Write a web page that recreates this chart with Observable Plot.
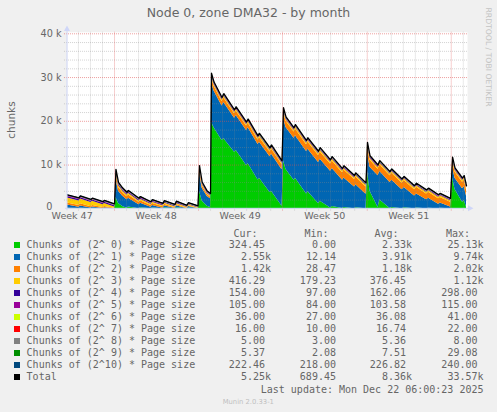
<!DOCTYPE html>
<html><head><meta charset="utf-8">
<script src="https://cdn.jsdelivr.net/npm/d3@7"></script>
<script src="https://cdn.jsdelivr.net/npm/@observablehq/plot@0.6"></script>
<style>
body{margin:0;background:#f0f0f0;}
#wrap{position:relative;width:497px;height:412px;overflow:hidden;background:#f0f0f0;font-family:"DejaVu Sans",sans-serif;color:#666;}
#wrap svg{position:absolute;left:0;top:0;}
.t{position:absolute;white-space:pre;}
.mono{font-family:"DejaVu Sans Mono",monospace;font-size:10px;line-height:12px;height:12px;}
.sw{position:absolute;width:6px;height:6px;}
</style></head><body><div id="wrap"></div>
<script>
// time axis in days since the left edge of the graph
const days = [0.00,0.95,1.07,1.94,2.06,2.93,3.05,3.88,
  4.00,4.21,4.54,4.91,5.03,5.90,6.02,6.89,7.01,7.88,8.00,8.87,8.99,9.86,9.98,10.77,
  10.89,11.11,11.53,11.80,
  11.88,12.09,12.75,12.90,13.78,13.92,14.77,14.91,15.72,15.84,16.71,16.83,17.70,
  17.82,18.03,18.69,18.81,19.72,19.84,20.71,20.85,21.70,21.84,22.69,22.81,23.68,23.79,24.63,
  24.75,24.96,25.62,25.77,26.61,26.76,27.60,27.78,28.63,28.80,29.62,29.79,30.61,30.75,31.60,
  31.77,31.97,32.59,32.73,32.92];

const chunks0 = [150,60,150,30,100,10,80,0,
  2600,1200,500,150,400,30,250,0,200,0,250,0,250,0,200,0,
  4000,1800,600,300,
  19800,18500,15600,16000,12900,13300,9900,10300,6600,7000,3700,4000,600,
  11000,9000,6500,7000,3400,3900,1200,1700,200,500,50,300,20,250,0,
  8500,4000,300,2000,50,300,30,250,20,200,10,150,0,100,0,
  7000,4400,1500,1900,324.45];
const chunks1 = [700,300,500,150,300,60,180,20,
  4200,2800,2400,1900,2000,900,1000,350,550,150,450,60,450,30,300,12,
  4200,2900,2200,2000,
  9000,8400,7900,8300,7800,8000,8000,8200,8100,8200,8200,8500,8300,
  9700,9600,9600,9700,9700,9700,9400,9600,8400,8700,6500,6750,4950,5250,3300,
  4000,5500,7250,6500,5950,6250,4300,4600,2900,3200,2050,2250,1050,1200,400,
  2500,2600,3100,3200,2550];
const chunks2 = [500,400,500,300,350,200,260,80,
  1000,900,800,700,750,550,600,400,450,300,350,200,300,100,200,50,
  800,600,450,400,
  1200,1100,1000,1050,1000,1050,1000,1050,1050,1100,1100,1150,1150,
  1400,1400,1450,1550,1550,1650,1600,1700,1650,1750,1700,1800,1700,1750,1700,
  1700,1650,1500,1550,1550,1600,1550,1600,1450,1500,1350,1400,1250,1300,1100,
  1350,1400,1450,1500,1420];
const chunks3 = [1100,1050,1080,950,980,650,700,330,
  500,450,420,380,400,330,340,290,300,260,270,230,240,200,220,190,
  350,300,270,260,
  420,400,380,400,380,400,380,400,380,390,380,390,380,
  420,420,400,420,400,420,400,420,400,420,400,420,390,410,380,
  400,400,400,410,400,400,390,400,380,390,370,380,360,370,350,
  420,420,420,430,416.29];
const chunks4 = [295,290,292,285,287,278,280,270,
  280,270,255,245,240,215,212,190,188,165,162,140,138,118,116,98,
  140,145,148,150,
  165,165,160,162,158,160,157,158,155,157,155,156,154,
  168,166,162,164,160,161,158,159,156,157,155,156,154,155,153,
  165,162,157,158,156,157,155,156,154,155,153,154,152,153,151,
  160,158,156,157,154];
const chunks5 = [112,112,113,112,112,111,111,110,
  112,110,110,108,108,104,104,100,100,96,96,92,92,88,88,85,
  95,98,100,100,
  108,108,106,107,105,106,105,105,104,105,104,104,104,
  110,109,107,108,106,106,105,106,104,105,104,104,103,104,103,
  110,108,105,106,104,105,104,104,103,104,103,103,102,103,102,
  107,106,105,106,105];
const chunks6 = [40,40,40,39,40,39,39,38,
  40,39,38,37,37,35,35,34,34,32,32,30,30,29,29,27,
  33,34,35,35,
  37,37,36,37,36,36,36,36,36,36,36,36,36,
  38,38,37,37,37,37,36,36,36,36,36,36,35,36,35,
  38,37,36,36,36,36,36,36,35,36,35,35,35,35,35,
  37,37,36,36,36];
const chunks7 = [20,20,21,20,20,19,19,19,
  20,20,19,18,18,17,17,16,16,14,14,13,13,11,11,10,
  14,15,15,15,
  17,17,16,17,16,17,16,16,16,16,16,16,16,
  18,17,17,17,17,17,16,16,16,16,16,16,16,16,15,
  17,17,16,16,16,16,16,16,16,16,15,16,15,15,15,
  17,17,16,16,16];
const chunks8 = [6,6,6,6,6,6,6,6,
  6,6,6,6,6,5,5,5,5,4,4,4,4,3,3,3,
  4,4,5,5,
  6,6,5,5,5,5,5,5,5,5,5,5,5,
  6,6,5,6,5,5,5,5,5,5,5,5,5,5,5,
  6,6,5,5,5,5,5,5,5,5,5,5,5,5,5,
  5,5,5,5,5];
const chunks9 = [10,10,10,9,9,9,9,8,
  25,15,10,8,9,7,8,6,7,5,6,4,5,3,4,2,
  29,12,8,7,
  10,9,7,8,7,8,7,7,6,7,6,7,6,
  12,10,8,8,7,7,6,7,6,6,6,6,5,6,5,
  10,8,7,7,6,6,5,6,5,5,5,5,4,5,4,
  9,8,6,6,5.37];
const chunks10 = [235,235,236,234,234,232,232,230,
  238,236,234,232,232,229,229,226,226,224,224,222,222,220,220,218,
  222,222,223,223,
  228,228,227,227,226,226,226,226,225,225,225,225,224,
  230,229,228,228,227,227,226,226,225,225,224,224,223,223,222,
  228,227,225,225,224,224,223,223,222,222,222,222,221,221,220,
  225,224,223,223,222.46];

const seriesNames = ["Chunks of (2^ 0) * Page size","Chunks of (2^ 1) * Page size","Chunks of (2^ 2) * Page size",
  "Chunks of (2^ 3) * Page size","Chunks of (2^ 4) * Page size","Chunks of (2^ 5) * Page size",
  "Chunks of (2^ 6) * Page size","Chunks of (2^ 7) * Page size","Chunks of (2^ 8) * Page size",
  "Chunks of (2^ 9) * Page size","Chunks of (2^10) * Page size"];
const seriesColors = ["#00CC00","#0066B3","#FF8000","#FFCC00","#330099","#990099","#CCFF00","#FF0000","#808080","#008F00","#00487D"];
const totalName = "Total";
const totalColor = "#000000";

const curVals = ["324.45","2.55k","1.42k","416.29","154.00","105.00","36.00","16.00","5.00","5.37","222.46","5.25k"];
const minVals = ["0.00","12.14","28.47","179.23","97.00","84.00","27.00","10.00","3.00","2.08","218.00","689.45"];
const avgVals = ["2.33k","3.91k","1.18k","376.45","162.06","103.58","36.08","16.74","5.36","7.51","226.82","8.36k"];
const maxVals = ["25.13k","9.74k","2.02k","1.12k","298.00","115.00","41.00","22.00","8.00","29.08","240.00","33.57k"];

const yTicks = [0, 10000, 20000, 30000, 40000];
const yTickLabels = ["0", "10 k", "20 k", "30 k", "40 k"];
const weekStarts = [3.88, 10.81, 17.74, 24.73, 31.66];
const weekLabels = ["Week 47", "Week 48", "Week 49", "Week 50", "Week 51"];

const titleText = "Node 0, zone DMA32 - by month";
const yLabel = "chunks";
const lastUpdate = "Last update: Mon Dec 22 06:00:23 2025";
const footer = "Munin 2.0.33-1";
const watermark = "RRDTOOL / TOBI OETIKER";

// ---- build ----
const series = [chunks0,chunks1,chunks2,chunks3,chunks4,chunks5,chunks6,chunks7,chunks8,chunks9,chunks10];
const rows = [];
series.forEach((arr, i) => arr.forEach((v, j) => rows.push({day: days[j], value: v, series: seriesNames[i]})));
const totals = days.map((d, j) => ({day: d, total: series.reduce((s, a) => s + a[j], 0)}));

const xMax = 33;
const dayStep = (weekStarts[weekStarts.length-1] - weekStarts[0]) / (7 * (weekStarts.length - 1));
const minorX = [];
for (let t = weekStarts[0] - dayStep; t > 0.3; t -= dayStep) minorX.push(t);
for (let w = 0; w < weekStarts.length; w++) {
  for (let k = 1; k < 7; k++) {
    const t = weekStarts[w] + k * dayStep;
    if (t < xMax - 0.1) minorX.push(t);
  }
}
const minorY = d3.range(2000, 40000, 2000).filter(v => v % 10000 !== 0);
const majorY = yTicks.filter(v => v > 0);
const minorStyle = {stroke: "#8c8c8c", strokeOpacity: 0.38, strokeDasharray: "1,1", strokeWidth: 1};
const majorStyle = {stroke: "#e05050", strokeOpacity: 0.55, strokeDasharray: "1,1", strokeWidth: 1};
const fontColor = "#666666";

const chart = Plot.plot({
  width: 497, height: 225,
  marginLeft: 67, marginRight: 30, marginTop: 33.3, marginBottom: 16.7,
  style: {background: "transparent", fontFamily: "DejaVu Sans", overflow: "visible"},
  x: {domain: [0, xMax], axis: null},
  y: {domain: [0, 40000], axis: null},
  color: {domain: seriesNames, range: seriesColors},
  marks: [
    Plot.frame({fill: "#ffffff", stroke: null, insetTop: -1.5}),
    Plot.areaY(rows, {x: "day", y: "value", fill: "series"}),
    Plot.ruleY(minorY, {x1: -0.25, x2: xMax + 0.05, ...minorStyle}),
    Plot.ruleX(minorX, {y1: -500, y2: 40340, ...minorStyle}),
    Plot.ruleY(majorY, {x1: -0.25, x2: xMax + 0.05, ...majorStyle}),
    Plot.ruleX(weekStarts, {y1: -500, y2: 40340, ...majorStyle}),
    Plot.lineY(totals, {x: "day", y: "total", stroke: totalColor, strokeWidth: 1.3}),
    Plot.text(yTicks.slice(1), {x: 0, y: d => d, text: (d, i) => yTickLabels[i + 1], textAnchor: "end", dx: -6, fill: fontColor, fontSize: 9.7}),
    Plot.text(yTicks.slice(0, 1), {x: 0, y: d => d, text: (d, i) => yTickLabels[i], textAnchor: "end", dx: -15, dy: -2, fill: fontColor, fontSize: 9.7}),
    Plot.text(weekLabels, {x: (d, i) => weekStarts[i] - 3.5, frameAnchor: "bottom", dy: 10, text: d => d, fill: fontColor, fontSize: 9.5})
  ]
});

// axes with arrows (rrdtool style)
const sx = chart.scale("x"), sy = chart.scale("y");
const x0 = sx.apply(0), y0 = sy.apply(0), xEnd = sx.apply(xMax);
const svg = d3.select(chart);
const axisColor = "#CFD6F8";
svg.append("line").attr("x1", x0).attr("x2", x0).attr("y1", y0 + 2).attr("y2", 28).attr("stroke", axisColor);
svg.append("path").attr("d", `M${x0-3},${31} L${x0+3},${31} L${x0},${25.5} Z`).attr("fill", axisColor);
svg.append("line").attr("x1", x0 - 2).attr("x2", xEnd + 4).attr("y1", y0).attr("y2", y0).attr("stroke", axisColor);
svg.append("path").attr("d", `M${xEnd+1},${y0-3} L${xEnd+1},${y0+3} L${xEnd+6.5},${y0} Z`).attr("fill", axisColor);

const wrap = document.getElementById("wrap");
wrap.appendChild(chart);

function addText(txt, css, cls) {
  const d = document.createElement("div");
  d.className = "t" + (cls ? " " + cls : "");
  d.textContent = txt;
  Object.assign(d.style, css);
  wrap.appendChild(d);
  return d;
}
// title, y label, watermark
addText(titleText, {left: "248.5px", top: "13px", transform: "translate(-50%,-50%)", fontSize: "12.5px", lineHeight: "1", color: fontColor});
addText(yLabel, {left: "10.7px", top: "120px", transform: "translate(-50%,-50%) rotate(-90deg)", fontSize: "10.5px", lineHeight: "1", color: fontColor});
addText(watermark, {left: "488.3px", top: "57px", transform: "translate(-50%,-50%) rotate(90deg)", fontSize: "7.7px", lineHeight: "1", color: "#c4c4c4"});

// legend
const headerY = 234, rowY0 = 245.3, rowStep = 12;
const colRight = [271, 342, 412, 483.5];
const headers = ["Cur:", "Min:", "Avg:", "Max:"];
headers.forEach((h, i) => addText(h, {right: (497 - (colRight[i] - 13.5)) + "px", top: (headerY - 6) + "px", color: fontColor}, "mono"));
const legendNames = [...seriesNames, totalName];
const legendColors = [...seriesColors, totalColor];
const fmt = v => v.endsWith("k") ? v : v + " ";
legendNames.forEach((name, i) => {
  const cy = rowY0 + i * rowStep;
  const sw = document.createElement("div");
  sw.className = "sw";
  Object.assign(sw.style, {left: "14px", top: (cy - 3) + "px", background: legendColors[i]});
  wrap.appendChild(sw);
  addText(name, {left: "26.6px", top: (cy - 6) + "px", color: fontColor}, "mono");
  [curVals, minVals, avgVals, maxVals].forEach((col, c) => {
    addText(fmt(col[i]), {right: (497 - colRight[c]) + "px", top: (cy - 6) + "px", color: fontColor}, "mono");
  });
});
addText(lastUpdate, {right: (497 - 483.5) + "px", top: (389.7 - 6) + "px", color: fontColor}, "mono");
addText(footer, {left: "248.3px", top: "401.7px", transform: "translate(-50%,-50%)", fontSize: "6.8px", lineHeight: "1", color: "#c0c0c0"});
</script></body></html>
